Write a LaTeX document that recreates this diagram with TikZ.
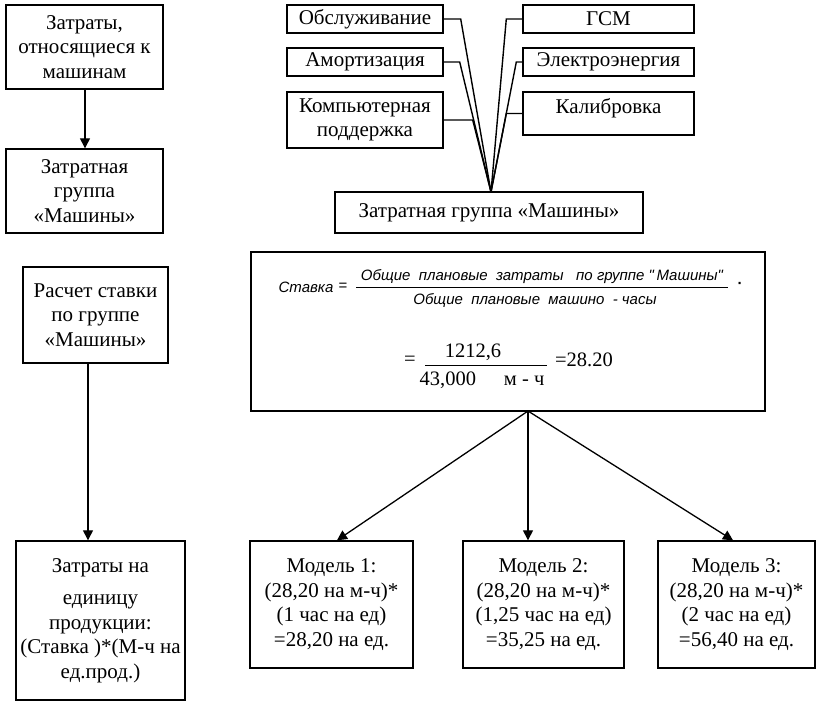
\documentclass[tikz,border=0pt]{standalone}
\usepackage{fontspec}
\setmainfont{Liberation Serif}
\newfontfamily\formulafont{Liberation Sans}
\usetikzlibrary{arrows.meta}

\begin{document}
\begin{tikzpicture}[x=1pt,y=-1pt,
    costbox/.style={draw, line width=1.4pt, align=center, inner sep=0pt,
      font=\fontsize{21}{24.5}\selectfont},
    link/.style={line width=1.4pt},
    arrowlink/.style={line width=1.3pt, -{Triangle[length=10pt,width=10pt]}},
    fml/.style={inner sep=0pt, font=\formulafont\itshape\fontsize{15}{17}\selectfont},
    numtext/.style={inner sep=0pt, font=\fontsize{20.5}{24}\selectfont}]

    \useasboundingbox (0,0) rectangle (816,702);

    \node[costbox, minimum width=157, minimum height=84] (machinecosts) at (84.5,47) {Затраты,\\относящиеся к\\машинам};
    \node[costbox, minimum width=157, minimum height=84] (leftgroup) at (84.5,191) {Затратная\\группа\\«Машины»};
    \node[costbox, minimum width=145, minimum height=96] (ratecalc) at (95.5,315) {Расчет ставки\\по группе\\«Машины»};
    \node[costbox, minimum width=169, minimum height=159] (unitcost) at (100.5,620.5) {Затраты на\\[8pt]единицу\\продукции:\\(Ставка )*(М-ч на\\ед.прод.)};

    \draw[arrowlink] (machinecosts.south -| 85,0) -- (leftgroup.north -| 85,0);
    \draw[arrowlink] (ratecalc.south -| 88,0) -- (unitcost.north -| 88,0);

    \node[costbox, minimum width=156, minimum height=28] (service) at (365,19) {Обслуживание};
    \node[costbox, minimum width=156, minimum height=28] (amort) at (365,62) {Амортизация};
    \node[costbox, minimum width=156, minimum height=56] (computer) at (365,120) {Компьютерная\\поддержка};
    \node[costbox, minimum width=171, minimum height=28] (fuel) at (608.5,19) {ГСМ};
    \node[costbox, minimum width=171, minimum height=28] (power) at (608.5,62) {Электроэнергия};
    \node[costbox, minimum width=171, minimum height=43, text depth=15pt] (calib) at (608.5,113.5) {Калибровка};
    \node[costbox, minimum width=308, minimum height=41] (group) at (489,212.5) {Затратная группа «Машины»};
    \coordinate (apex) at (491,192);

    \draw[link] (service.east) -- ++(17,0) -- (apex);
    \draw[link] (amort.east) -- ++(16,0) -- (apex);
    \draw[link] (computer.east) -- ++(29,0) -- (apex);
    \draw[link] (fuel.west) -- ++(-16,0) -- (apex);
    \draw[link] (power.west) -- ++(-6,0) -- (apex);
    \draw[link] (calib.west) -- ++(-16,0) -- (apex);

    \node[costbox, minimum width=514, minimum height=159] (formula) at (508,331.5) {};
    \node[fml] (rate) at (306,287) {Ставка};
    \node[fml, font=\formulafont\fontsize{15}{17}\selectfont] (eqone) at (343,287) {=};
    \node[fml] (numone) at (542,277) {Общие\ \ плановые\ \ затраты\ \ \ по группе "\,Машины"};
    \node[fml] (denone) at (535,300) {Общие\ \ плановые\ \ машино\ \ - часы};
    \draw[line width=0.7pt] (356,287) -- (728,287);
    \node[fml, font=\formulafont\bfseries\fontsize{15}{17}\selectfont] (dot) at (740,285) {·};

    \node[numtext] (eqtwo) at (410,361) {=};
    \node[numtext] (numtwo) at (473,352) {1212,6};
    \draw[line width=0.8pt] (425,365) -- (547,365);
    \node[numtext] (dentwo) at (482,380) {43,000\hspace{28pt}м - ч};
    \node[numtext] (result) at (584,360) {=28.20};
    \coordinate (fork) at (528,411);

    \node[costbox, minimum width=163, minimum height=127] (modelone) at (331.5,604.5) {Модель 1:\\(28,20 на м-ч)*\\(1 час на ед)\\=28,20 на ед.};
    \node[costbox, minimum width=161, minimum height=127] (modeltwo) at (543.5,604.5) {Модель 2:\\(28,20 на м-ч)*\\(1,25 час на ед)\\=35,25 на ед.};
    \node[costbox, minimum width=157, minimum height=127] (modelthree) at (736.5,604.5) {Модель 3:\\(28,20 на м-ч)*\\(2 час на ед)\\=56,40 на ед.};

    \draw[arrowlink] (fork) -- ([xshift=5.5pt]modelone.north);
    \draw[arrowlink] (fork) -- ([xshift=-15.5pt]modeltwo.north);
    \draw[arrowlink] (fork) -- ([xshift=-3.5pt]modelthree.north);
\end{tikzpicture}
\end{document}
